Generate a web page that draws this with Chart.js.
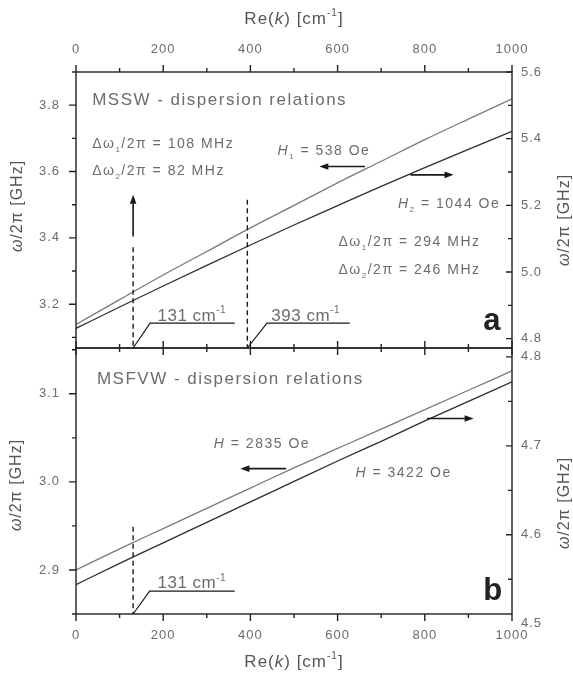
<!DOCTYPE html>
<html>
<head>
<meta charset="utf-8">
<script src="https://cdn.jsdelivr.net/npm/chart.js@4.4.1/dist/chart.umd.min.js"></script>
<style>
  html, body { margin: 0; padding: 0; background: #fff; }
  #wrap { position: relative; width: 573px; height: 675px; overflow: hidden; }
  canvas { position: absolute; left: 0; }
  #cA { top: 0; }
  #cB { top: 340px; }
</style>
</head>
<body>
<div id="wrap">
  <canvas id="cA" width="573" height="356"></canvas>
  <canvas id="cB" width="573" height="335"></canvas>
</div>
<script>
// wave vector Re(k) [cm^-1]
const K = [0, 100, 200, 300, 400, 500, 600, 700, 800, 900, 1000];
// panel a: MSSW, H1 = 538 Oe (left axis) and H2 = 1044 Oe (right axis), GHz
const mssw538  = [3.139, 3.214, 3.288, 3.359, 3.430, 3.498, 3.566, 3.631, 3.696, 3.758, 3.819];
const mssw1044 = [4.831, 4.895, 4.958, 5.020, 5.081, 5.141, 5.199, 5.257, 5.313, 5.368, 5.422];
// panel b: MSFVW, H = 2835 Oe (left axis) and H = 3422 Oe (right axis), GHz
const msfvw2835 = [2.900, 2.924, 2.947, 2.970, 2.993, 3.016, 3.038, 3.060, 3.082, 3.104, 3.126];
const msfvw3422 = [4.544, 4.568, 4.591, 4.614, 4.637, 4.660, 4.683, 4.705, 4.728, 4.750, 4.772];

// tick labels
const xLabels  = [0, 200, 400, 600, 800, 1000];
const aLeftLab = [3.2, 3.4, 3.6, 3.8];
const aRightLab = [4.8, 5.0, 5.2, 5.4, 5.6];
const bLeftLab = [2.9, 3.0, 3.1];
const bRightLab = [4.5, 4.6, 4.7, 4.8];

const FAM = '"Liberation Sans", Arial, Helvetica, sans-serif';
const GREY = '#6c6c6c';

function labeler(list, digits) {
  return v => list.some(l => Math.abs(l - v) < 1e-6) ? v.toFixed(digits) : '';
}

// text with italic / sub / sup pieces
function rich(ctx, x, y, parts, size, align) {
  const fontFor = k => (k === 'i' ? 'italic ' : k === 'b' ? 'bold ' : '') +
    ((k === 'sub' || k === 'sup') ? Math.round(size * 0.6) : size) + 'px ' + FAM;
  let w = 0;
  parts.forEach(p => { ctx.font = fontFor(p[1]); w += ctx.measureText(p[0]).width; });
  let cx = align === 'center' ? x - w / 2 : align === 'right' ? x - w : x;
  ctx.textAlign = 'left';
  parts.forEach(p => {
    ctx.font = fontFor(p[1]);
    const dy = p[1] === 'sub' ? size * 0.28 : p[1] === 'sup' ? -size * 0.45 : 0;
    ctx.fillText(p[0], cx, y + dy);
    cx += ctx.measureText(p[0]).width;
  });
}

function arrow(ctx, x1, y1, x2, y2) {
  const a = Math.atan2(y2 - y1, x2 - x1), h = 9, w = 3.3;
  ctx.beginPath();
  ctx.moveTo(x1, y1);
  ctx.lineTo(x2 - h * 0.7 * Math.cos(a), y2 - h * 0.7 * Math.sin(a));
  ctx.stroke();
  ctx.beginPath();
  ctx.moveTo(x2, y2);
  ctx.lineTo(x2 - h * Math.cos(a) + w * Math.sin(a), y2 - h * Math.sin(a) - w * Math.cos(a));
  ctx.lineTo(x2 - h * Math.cos(a) - w * Math.sin(a), y2 - h * Math.sin(a) + w * Math.cos(a));
  ctx.closePath();
  ctx.fill();
}

function rotTitle(ctx, x, y, parts, size) {
  ctx.save();
  ctx.translate(x, y);
  ctx.rotate(-Math.PI / 2);
  ctx.textBaseline = 'middle';
  rich(ctx, 0, 0, parts, size, 'center');
  ctx.restore();
}

const OMEGA = [['ω', 'i'], ['/2π [GHz]', '']];
const REK = [['Re(', ''], ['k', 'i'], [') [cm', ''], ['-1', 'sup'], [']', '']];

// frame + Origin style ticks (major long, minor short)
const frameTicks = {
  id: 'frameTicks',
  beforeDraw(chart) { chart.ctx.letterSpacing = '1px'; },
  afterDraw(chart) {
    const {ctx, chartArea: a, scales} = chart;
    const xTop = scales.x.options.position === 'top';
    ctx.save();
    ctx.strokeStyle = '#222';
    ctx.lineWidth = 1.4;
    ctx.strokeRect(a.left, a.top, a.right - a.left, a.bottom - a.top);
    ctx.beginPath();
    scales.x.ticks.forEach(t => {
      const p = scales.x.getPixelForValue(t.value), L = t.label ? 7 : 4;
      if (xTop) {
        ctx.moveTo(p, a.top); ctx.lineTo(p, a.top - L);
        ctx.moveTo(p, a.bottom); ctx.lineTo(p, a.bottom - L);
      } else {
        ctx.moveTo(p, a.bottom); ctx.lineTo(p, a.bottom + L);
        ctx.moveTo(p, a.top); ctx.lineTo(p, a.top + L);
      }
    });
    scales.yL.ticks.forEach(t => {
      const p = scales.yL.getPixelForValue(t.value), L = t.label ? 7 : 4;
      if (p < a.top - 0.5 || p > a.bottom + 0.5) return;
      ctx.moveTo(a.left, p); ctx.lineTo(a.left - L, p);
    });
    scales.yR.ticks.forEach(t => {
      const p = scales.yR.getPixelForValue(t.value), L = t.label ? 6 : 4;
      if (p < a.top - 0.5 || p > a.bottom + 0.5) return;
      ctx.moveTo(a.right, p); ctx.lineTo(a.right - L, p);
    });
    ctx.stroke();
    ctx.restore();
  }
};

function leader(ctx, X, Y, k0, yBase, k1, y1, k2) {
  ctx.beginPath();
  ctx.moveTo(X(k0), yBase);
  ctx.lineTo(X(k1), Y(y1));
  ctx.lineTo(X(k2), Y(y1));
  ctx.stroke();
}

function dashed(ctx, X, k, yTop, yBottom) {
  ctx.save();
  ctx.setLineDash([5, 3.5]);
  ctx.lineWidth = 1.4;
  ctx.beginPath();
  ctx.moveTo(X(k), yTop);
  ctx.lineTo(X(k), yBottom);
  ctx.stroke();
  ctx.restore();
}

const notesA = {
  id: 'notesA',
  afterDraw(chart) {
    const {ctx, chartArea: a, scales} = chart;
    const X = v => scales.x.getPixelForValue(v), Y = v => scales.yL.getPixelForValue(v);
    ctx.save();
    ctx.letterSpacing = '1.5px';
    ctx.textBaseline = 'alphabetic';
    ctx.fillStyle = GREY;
    rich(ctx, X(37), Y(3.80), [['MSSW - dispersion relations', '']], 17);
    rich(ctx, X(37), Y(3.672), [['Δω', ''], ['1', 'sub'], ['/2π = 108 MHz', '']], 14);
    rich(ctx, X(37), Y(3.589), [['Δω', ''], ['2', 'sub'], ['/2π = 82 MHz', '']], 14);
    rich(ctx, X(462), Y(3.651), [['H', 'i'], ['1', 'sub'], [' = 538 Oe', '']], 14);
    rich(ctx, X(973), Y(3.490), [['H', 'i'], ['2', 'sub'], [' = 1044 Oe', '']], 14, 'right');
    rich(ctx, X(602), Y(3.375), [['Δω', ''], ['1', 'sub'], ['/2π = 294 MHz', '']], 14);
    rich(ctx, X(602), Y(3.291), [['Δω', ''], ['2', 'sub'], ['/2π = 246 MHz', '']], 14);
    ctx.letterSpacing = '0.5px';
    rich(ctx, X(187), Y(3.150), [['131 cm', ''], ['-1', 'sup']], 17);
    rich(ctx, X(448), Y(3.150), [['393 cm', ''], ['-1', 'sup']], 17);
    ctx.fillStyle = '#222';
    ctx.letterSpacing = '0px';
    rich(ctx, X(934), Y(3.121), [['a', 'b']], 31);

    ctx.strokeStyle = '#1a1a1a';
    ctx.fillStyle = '#1a1a1a';
    ctx.lineWidth = 1.6;
    arrow(ctx, X(131), Y(3.404), X(131), Y(3.530));
    arrow(ctx, X(663), Y(3.615), X(558), Y(3.615));
    arrow(ctx, X(767), Y(3.590), X(866), Y(3.590));
    dashed(ctx, X, 131, Y(3.372), a.bottom);
    dashed(ctx, X, 393, Y(3.515), a.bottom);
    ctx.lineWidth = 1.2;
    leader(ctx, X, Y, 131, a.bottom, 170, 3.143, 364);
    leader(ctx, X, Y, 393, a.bottom, 438, 3.143, 628);

    // axis titles
    ctx.fillStyle = '#555';
    ctx.letterSpacing = '1px';
    rich(ctx, 294, 24, REK, 17, 'center');
    rotTitle(ctx, 18, 206, OMEGA, 16);
    rotTitle(ctx, 565, 220, OMEGA, 16);
    ctx.restore();
  }
};

const notesB = {
  id: 'notesB',
  afterDraw(chart) {
    const {ctx, chartArea: a, scales} = chart;
    const X = v => scales.x.getPixelForValue(v), Y = v => scales.yL.getPixelForValue(v);
    ctx.save();
    ctx.letterSpacing = '1.5px';
    ctx.textBaseline = 'alphabetic';
    ctx.fillStyle = GREY;
    rich(ctx, X(48), Y(3.111), [['MSFVW - dispersion relations', '']], 17);
    rich(ctx, X(316), Y(3.039), [['H', 'i'], [' = 2835 Oe', '']], 14);
    rich(ctx, X(641), Y(3.006), [['H', 'i'], [' = 3422 Oe', '']], 14);
    ctx.letterSpacing = '0.5px';
    rich(ctx, X(187), Y(2.879), [['131 cm', ''], ['-1', 'sup']], 17);
    ctx.fillStyle = '#222';
    ctx.letterSpacing = '0px';
    rich(ctx, X(934), Y(2.866), [['b', 'b']], 31);

    ctx.strokeStyle = '#1a1a1a';
    ctx.fillStyle = '#1a1a1a';
    ctx.lineWidth = 1.6;
    arrow(ctx, X(482), Y(3.015), X(377), Y(3.015));
    arrow(ctx, X(805), Y(3.072), X(912), Y(3.072));
    dashed(ctx, X, 131, Y(2.949), a.bottom);
    ctx.lineWidth = 1.2;
    leader(ctx, X, Y, 131, a.bottom, 169, 2.876, 364);

    ctx.fillStyle = '#555';
    ctx.letterSpacing = '1px';
    rich(ctx, 294, 327, REK, 17, 'center');
    rotTitle(ctx, 17, 145, OMEGA, 16);
    rotTitle(ctx, 565, 163, OMEGA, 16);
    ctx.restore();
  }
};

const tickFont = {family: FAM, size: 13};
const noGrid = {display: false, drawTicks: false};

function yAxis(pos, min, max, step, labels, width, extra) {
  return Object.assign({
    type: 'linear', position: pos, min, max,
    grid: noGrid, border: {display: false},
    ticks: {stepSize: step, includeBounds: false, autoSkip: false, font: tickFont, color: GREY,
            padding: pos === 'left' ? 16 : 9, callback: labeler(labels, 1)},
    // fixed widths, and no extra room for the end labels
    afterFit: s => { s.width = width; s.paddingTop = 0; s.paddingBottom = 0; }
  }, extra || {});
}

function xAxis(pos, height, pad) {
  return {
    type: 'linear', position: pos, min: 0, max: 1000,
    grid: noGrid, border: {display: false},
    ticks: {stepSize: 100, autoSkip: false, maxRotation: 0, font: tickFont, color: GREY,
            padding: pad, callback: labeler(xLabels, 0)},
    afterFit: s => { s.height = height; s.paddingLeft = 0; s.paddingRight = 0; }
  };
}

function series(vals, axis, color) {
  return {
    data: K.map((k, i) => ({x: k, y: vals[i]})),
    yAxisID: axis, borderColor: color, borderWidth: 1.3,
    pointRadius: 0, cubicInterpolationMode: 'monotone', fill: false
  };
}

const common = {
  responsive: false, animation: false, events: [],
  plugins: {legend: {display: false}, tooltip: {enabled: false}}
};

new Chart(document.getElementById('cA'), {
  type: 'line',
  data: {datasets: [series(mssw538, 'yL', '#7a7a7a'), series(mssw1044, 'yR', '#2e2e2e')]},
  options: Object.assign({}, common, {
    layout: {padding: {top: 0, bottom: 8, left: 0, right: 0}},
    scales: {
      x: xAxis('top', 72, 15),
      yL: yAxis('left', 3.068, 3.9, 0.1, aLeftLab, 76),
      yR: yAxis('right', 4.772, 5.6, 0.1, aRightLab, 61)
    }
  }),
  plugins: [frameTicks, notesA]
});

new Chart(document.getElementById('cB'), {
  type: 'line',
  data: {datasets: [series(msfvw2835, 'yL', '#7a7a7a'), series(msfvw3422, 'yR', '#2e2e2e')]},
  options: Object.assign({}, common, {
    layout: {padding: {top: 8, bottom: 0, left: 0, right: 0}},
    scales: {
      x: xAxis('bottom', 61, 14),
      yL: yAxis('left', 2.85, 3.152, 0.05, bLeftLab, 76),
      yR: yAxis('right', 4.511, 4.81, 0.05, bRightLab, 61, {
        afterBuildTicks: s => { if (!s.ticks.some(t => Math.abs(t.value - 4.5) < 1e-6)) s.ticks.unshift({value: 4.5}); }
      })
    }
  }),
  plugins: [frameTicks, notesB]
});
</script>
</body>
</html>
